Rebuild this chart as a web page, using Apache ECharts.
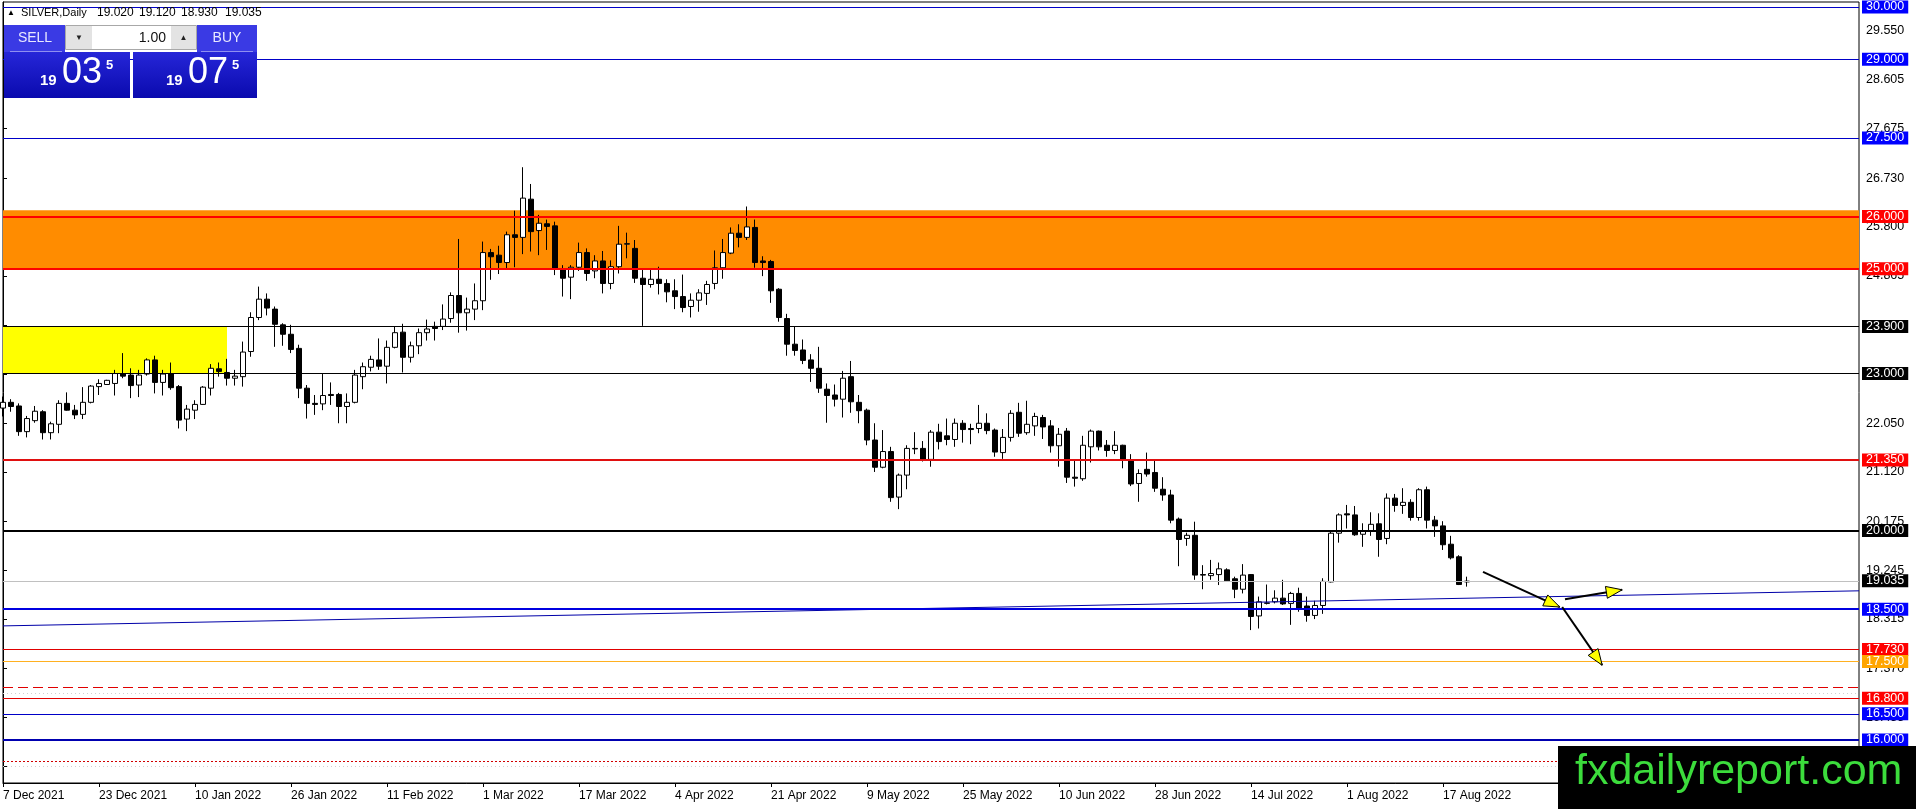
<!DOCTYPE html>
<html><head><meta charset="utf-8">
<script src="https://cdn.jsdelivr.net/npm/echarts@6/dist/echarts.min.js"></script>
<style>html,body{margin:0;padding:0;background:#fff;overflow:hidden}#c{width:1916px;height:809px}</style>
</head><body><div id="c"></div>
<script>
// ---------- data ----------
const opens = [22.34,22.45,22.38,21.89,22.10,22.27,21.87,22.03,22.43,22.30,
22.22,22.45,22.75,22.79,22.81,23.00,22.97,22.78,22.99,23.26,
22.83,23.00,22.75,22.13,22.30,22.41,22.72,23.09,23.02,22.91,
22.94,23.42,24.07,24.42,24.23,23.93,23.75,23.48,22.72,22.43,
22.42,22.60,22.60,22.37,22.45,22.94,23.12,23.26,23.14,23.50,
23.79,23.31,23.53,23.78,23.90,23.90,24.05,24.49,24.16,24.23,
24.39,25.31,25.26,25.12,25.65,25.60,26.33,25.73,25.86,25.82,
24.99,24.84,25.03,25.31,24.96,25.15,24.72,25.04,25.47,25.39,
24.82,24.70,24.80,24.72,24.58,24.47,24.28,24.40,24.53,24.72,
25.02,25.30,25.68,25.60,25.79,25.15,25.14,24.61,24.05,23.56,
23.45,23.26,23.10,22.70,22.59,22.51,22.94,22.45,22.30,21.73,
21.21,21.51,20.64,21.06,21.57,21.57,21.36,21.88,21.81,21.74,
22.05,21.95,21.95,22.05,21.92,21.49,21.78,22.26,21.87,22.00,
22.16,22.00,21.62,21.90,21.02,20.99,21.60,21.90,21.63,21.53,
21.63,21.34,20.90,21.17,21.11,20.79,20.68,20.22,19.85,19.91,
19.16,19.14,19.16,19.25,19.08,18.88,19.16,18.37,18.61,18.64,
18.71,18.61,18.80,18.56,18.38,18.57,19.02,19.95,20.32,20.30,
19.93,19.99,20.13,19.85,20.62,20.48,20.54,20.25,20.78,20.20,
20.09,19.74,19.50,19.02];
const closes = [22.45,22.37,21.89,22.14,22.28,21.87,22.04,22.43,22.30,22.21,
22.45,22.76,22.81,22.87,23.00,22.95,22.77,22.97,23.26,22.83,
22.99,22.73,22.11,22.32,22.41,22.74,23.10,23.04,22.91,22.95,
23.41,24.07,24.42,24.25,23.94,23.75,23.46,22.72,22.43,22.41,
22.58,22.58,22.37,22.45,22.97,23.13,23.27,23.14,23.50,23.78,
23.31,23.53,23.78,23.85,23.86,24.04,24.49,24.16,24.23,24.39,
25.31,25.23,25.12,25.65,25.60,26.35,25.71,25.87,25.81,25.01,
24.82,25.03,25.31,24.91,25.15,24.72,25.04,25.47,25.48,24.82,
24.70,24.80,24.72,24.56,24.47,24.26,24.40,24.54,24.70,25.02,
25.31,25.68,25.60,25.80,25.12,25.12,24.58,24.07,23.56,23.44,
23.25,23.10,22.72,22.58,22.51,22.91,22.46,22.29,21.73,21.21,
21.51,20.63,21.06,21.57,21.56,21.36,21.88,21.70,21.74,22.05,
21.93,21.93,22.05,21.91,21.50,21.78,22.24,21.86,22.03,22.18,
21.98,21.62,21.84,21.02,21.00,21.63,21.90,21.60,21.53,21.63,
21.36,20.89,21.09,21.08,20.81,20.68,20.20,19.83,19.91,19.15,
19.15,19.18,19.27,19.04,18.88,19.15,18.36,18.64,18.62,18.71,
18.60,18.80,18.52,18.38,18.57,19.03,19.95,20.30,20.30,19.92,
19.99,20.12,19.83,20.62,20.48,20.54,20.25,20.78,20.20,20.09,
19.73,19.48,18.97,19.035];
const lows = [22.18,22.27,21.81,21.78,22.06,21.74,21.74,21.86,22.29,22.13,
22.13,22.43,22.59,22.79,22.58,22.91,22.53,22.55,22.96,22.62,
22.58,22.69,21.95,21.90,22.13,22.40,22.58,22.94,22.77,22.77,
22.75,23.32,24.02,24.11,23.51,23.53,23.39,22.53,22.14,22.21,
22.30,22.40,22.05,22.05,22.43,22.70,23.04,23.07,22.81,23.48,
23.02,23.21,23.37,23.63,23.63,23.83,23.97,23.78,23.82,24.02,
24.21,24.79,24.90,25.01,25.03,25.28,25.33,25.26,25.36,24.88,
24.47,24.42,24.96,24.77,24.82,24.53,24.61,24.91,25.20,24.73,
23.91,24.64,24.51,24.36,24.23,24.17,24.07,24.18,24.31,24.61,
24.81,25.28,25.41,25.55,25.02,24.86,24.35,23.99,23.34,23.34,
23.18,22.84,22.63,22.06,22.37,22.16,22.25,22.05,21.63,21.12,
21.19,20.55,20.41,20.79,21.46,21.32,21.22,21.55,21.63,21.60,
21.68,21.65,21.86,21.84,21.41,21.37,21.70,21.79,21.83,21.81,
21.75,21.49,21.22,20.91,20.84,20.95,21.30,21.53,21.41,21.46,
21.19,20.85,20.55,21.03,20.74,20.57,20.14,19.32,19.71,19.06,
18.88,19.06,18.96,19.02,18.71,18.80,18.10,18.13,18.59,18.61,
18.58,18.20,18.45,18.26,18.31,18.41,19.01,19.77,20.04,19.90,
19.69,19.90,19.50,19.74,20.36,20.32,20.19,20.19,20.04,19.88,
19.63,19.45,18.96,18.93];
const highs = [22.56,22.51,22.43,22.19,22.38,22.30,22.08,22.49,22.64,22.40,
22.74,22.78,22.89,22.88,23.07,23.39,23.10,23.07,23.29,23.34,
23.07,23.21,22.78,22.40,22.49,22.76,23.18,23.21,23.28,23.07,
23.61,24.17,24.66,24.53,24.28,23.96,23.93,23.55,22.78,22.59,
22.99,22.83,22.63,22.62,23.07,23.21,23.34,23.67,23.63,23.90,
23.95,23.61,23.86,24.03,23.99,24.32,24.55,25.57,24.45,24.72,
25.52,25.38,25.44,25.71,26.11,26.94,26.62,26.03,25.94,25.90,
25.07,25.07,25.50,25.39,25.26,25.34,25.16,25.82,25.69,25.55,
24.99,24.98,25.04,24.80,24.80,24.89,24.53,24.61,24.77,25.35,
25.57,25.79,25.85,26.19,25.94,25.24,25.17,24.63,24.14,23.90,
23.65,23.37,23.51,22.81,22.79,23.05,23.24,22.59,22.33,22.05,
21.92,21.60,21.09,21.63,21.88,21.71,21.92,22.04,22.14,22.14,
22.11,22.04,22.40,22.24,21.95,21.94,22.30,22.44,22.48,22.25,
22.21,22.11,21.96,21.96,21.35,21.81,21.93,21.91,21.73,21.90,
21.64,21.46,21.17,21.49,21.33,21.02,20.78,20.25,19.96,20.17,
19.34,19.44,19.39,19.28,19.12,19.36,19.17,18.74,18.97,18.86,
19.06,18.83,18.91,18.74,18.66,19.09,19.99,20.33,20.49,20.47,
20.14,20.35,20.33,20.71,20.70,20.81,20.60,20.81,20.84,20.28,
20.18,19.90,19.53,19.12];

const firstDate = '2021-12-07';
const holidays = ['2022-04-15'];
const emptyBars = 49;
const labelEvery = 12;
const priceTicks = [29.55,28.605,27.675,26.73,25.8,24.865,23.925,22.99,22.05,21.12,20.175,19.245,18.315,17.37,16.435,15.5];
const labeledLevels = [30,29,27.5,26,25,23.9,23,21.35,20,19.035,18.5,17.73,17.5,16.8,16.5,16];
const plainLevels = [17.0,16.9,15.6,15.5];
const orangeZone = [25.0,26.12];
const yellowZone = [23.0,23.9];
const yellowZoneBars = [0,28];
const trendX = [0,232];
const trendY = [18.18,18.85];
const arrowFromX = [185,194.9,195.25];
const arrowFromY = [19.21,18.54,18.69];
const arrowToX = [194.6,199.9,202.4];
const arrowToY = [18.54,17.43,18.87];
const header = {sym:'SILVER,Daily', o:'19.020', h:'19.120', l:'18.930', c:'19.035'};
const bidParts = ['19','03','5'];
const askParts = ['19','07','5'];
const lotText = '1.00';
const watermark = 'fxdailyreport.com';

// ---------- build ----------
const MONTHS = ['Jan','Feb','Mar','Apr','May','Jun','Jul','Aug','Sep','Oct','Nov','Dec'];
function tradingDays(start, n, skip){
  const out=[]; const d=new Date(start+'T00:00:00Z');
  while(out.length<n){
    const wd=d.getUTCDay(); const iso=d.toISOString().slice(0,10);
    if(wd!==0&&wd!==6&&skip.indexOf(iso)<0) out.push(d.getUTCDate()+' '+MONTHS[d.getUTCMonth()]+' '+d.getUTCFullYear());
    d.setUTCDate(d.getUTCDate()+1);
  }
  return out;
}
const nBars = opens.length;
const days = tradingDays(firstDate, nBars, holidays);
const cats = days.concat(Array.from({length:emptyBars},(_,k)=>'~'+k));
const candles = opens.map((o,i)=>[o,closes[i],lows[i],highs[i]]);
const lastIdx = cats.length-1;
const showLbl = (idx)=> idx%labelEvery===0 && idx<nBars-2;

const FONT = 'Liberation Sans, Arial, sans-serif';
const BLUE_L='#0000c8', BLUE_B='#0000ff', RED='#ff0000', BLK='#000000';
const styleFor = {
  '30':   {c:BLUE_L,w:1,bg:BLUE_B},
  '29':   {c:BLUE_L,w:1,bg:BLUE_B},
  '27.5': {c:BLUE_L,w:1,bg:BLUE_B},
  '26':   {c:RED,w:2,bg:RED},
  '25':   {c:RED,w:2,bg:RED},
  '23.9': {c:BLK,w:1,bg:BLK},
  '23':   {c:BLK,w:1,bg:BLK},
  '21.35':{c:'#e01010',w:2,bg:RED},
  '20':   {c:BLK,w:2,bg:BLK},
  '19.035':{c:'#c0c0c0',w:1,bg:BLK},
  '18.5': {c:'#0000e0',w:2,bg:BLUE_B},
  '17.73':{c:'#e00000',w:1,bg:RED},
  '17.5': {c:'#ffb020',w:1,bg:'#ffa500'},
  '16.8': {c:'#e00000',w:1,bg:RED},
  '16.5': {c:BLUE_L,w:1,bg:BLUE_B},
  '16':   {c:'#0000b0',w:2,bg:BLUE_B}
};
const plainStyle = {
  '17':  {color:'#e00000',width:1,type:[10,5]},
  '16.9':{color:'#d0d0d0',width:1,type:[1,3]},
  '15.6':{color:'#d00000',width:1,type:[2,2]},
  '15.5':{color:'#d0d0d0',width:1,type:[1,3]}
};
const markLineData = labeledLevels.map(v=>{
  const s=styleFor[String(v)];
  return {yAxis:v, lineStyle:{color:s.c,width:s.w,type:'solid'},
    label:{show:true,position:'end',distance:3,formatter:v.toFixed(3),color:'#fff',
      backgroundColor:s.bg,padding:[1,4,0,4],fontSize:12.5,lineHeight:12,fontFamily:FONT}};
}).concat(plainLevels.map(v=>({yAxis:v,lineStyle:plainStyle[String(v)],label:{show:false}})));

const YMAX = 30 + 5/52.36, YMIN = 30 - 776/52.36;

const grad = (a,b)=>new echarts.graphic.LinearGradient(0,0,0,1,[{offset:0,color:a},{offset:1,color:b}]);
const g = [];
// header
g.push({type:'text',x:7,y:13,style:{text:'▲',font:'8px '+FONT,fill:'#000',verticalAlign:'middle'}});
g.push({type:'text',x:21,y:13,style:{text:header.sym,font:'11px '+FONT,fill:'#000',verticalAlign:'middle'}});
[[header.o,97],[header.h,139],[header.l,181],[header.c,225]].forEach(p=>g.push({type:'text',x:p[1],y:13,style:{text:p[0],font:'12px '+FONT,fill:'#000',verticalAlign:'middle'}}));
// panel
g.push({type:'rect',shape:{x:4,y:52,width:126,height:46},style:{fill:grad('#2626d8','#0a0aae')}});
g.push({type:'rect',shape:{x:133,y:52,width:124,height:46},style:{fill:grad('#2626d8','#0a0aae')}});
g.push({type:'rect',shape:{x:4,y:25,width:61,height:27},style:{fill:'#3a3ae4'}});
g.push({type:'rect',shape:{x:197,y:25,width:60,height:27},style:{fill:'#3a3ae4'}});
g.push({type:'line',shape:{x1:10,y1:51.5,x2:62,y2:51.5},style:{stroke:'#8f8ff0',lineWidth:1}});
g.push({type:'line',shape:{x1:201,y1:51.5,x2:253,y2:51.5},style:{stroke:'#8f8ff0',lineWidth:1}});
g.push({type:'rect',shape:{x:65.5,y:25.5,width:131,height:24},style:{fill:'#fff',stroke:'#a8a8a8',lineWidth:1}});
g.push({type:'rect',shape:{x:66,y:26,width:26,height:23},style:{fill:'#e3e3e3'}});
g.push({type:'rect',shape:{x:171,y:26,width:25,height:23},style:{fill:'#e3e3e3'}});
g.push({type:'text',x:79,y:38,style:{text:'▼',font:'8px '+FONT,fill:'#222',align:'center',verticalAlign:'middle'}});
g.push({type:'text',x:183.5,y:38,style:{text:'▲',font:'8px '+FONT,fill:'#222',align:'center',verticalAlign:'middle'}});
g.push({type:'text',x:166,y:38,style:{text:lotText,font:'14px '+FONT,fill:'#111',align:'right',verticalAlign:'middle'}});
g.push({type:'text',x:35,y:38,style:{text:'SELL',font:'14px '+FONT,fill:'#e8e8ff',align:'center',verticalAlign:'middle'}});
g.push({type:'text',x:227,y:38,style:{text:'BUY',font:'14px '+FONT,fill:'#e8e8ff',align:'center',verticalAlign:'middle'}});
function priceParts(parts,x0){
  g.push({type:'text',x:x0,y:81,style:{text:parts[0],font:'bold 15px '+FONT,fill:'#fff',verticalAlign:'middle'}});
  g.push({type:'text',x:x0+22,y:73,style:{text:parts[1],font:'36px '+FONT,fill:'#fff',verticalAlign:'middle'}});
  g.push({type:'text',x:x0+66,y:65,style:{text:parts[2],font:'bold 13px '+FONT,fill:'#fff',verticalAlign:'middle'}});
}
priceParts(bidParts,40);
priceParts(askParts,166);
// watermark
g.push({type:'rect',shape:{x:1558,y:746,width:358,height:63},style:{fill:'#000'},z:200});
g.push({type:'text',x:1575,y:772,style:{text:watermark,font:'43px '+FONT,fill:'#3cdc3c',verticalAlign:'middle'},z:201});
g.forEach(e=>{ if(e.z==null) e.z=100; });

const chart = echarts.init(document.getElementById('c'), null, {renderer:'canvas'});
chart.setOption({
  animation:false,
  backgroundColor:'#ffffff',
  grid:{left:3,right:57,top:2,bottom:26,show:true,borderColor:'#000',borderWidth:1,backgroundColor:'transparent'},
  xAxis:[{
    type:'category',data:cats,boundaryGap:false,
    axisLine:{show:true,lineStyle:{color:'#000',width:1}},
    axisTick:{show:true,length:4,interval:(i)=>showLbl(i),lineStyle:{color:'#000'}},
    axisLabel:{show:true,interval:(i)=>showLbl(i),align:'left',margin:7,color:'#000',fontSize:12,fontFamily:FONT},
    splitLine:{show:false}
  },{
    type:'value',min:0,max:lastIdx,show:false
  }],
  yAxis:[{
    type:'value',position:'right',min:YMIN,max:YMAX,
    axisLine:{show:true,lineStyle:{color:'#000',width:1}},
    axisTick:{show:true,length:4,customValues:priceTicks,lineStyle:{color:'#000'}},
    axisLabel:{show:true,customValues:priceTicks,formatter:(v)=>Number(v).toFixed(3),margin:7,color:'#000',fontSize:12.5,fontFamily:FONT},
    splitLine:{show:false}
  }],
  graphic:g,
  series:[
    {
      type:'line',xAxisIndex:1,yAxisIndex:0,
      data:trendX.map((x,k)=>[x,trendY[k]]),
      symbol:'none',lineStyle:{color:'#0000a8',width:1},z:4,silent:true,
      markArea:{silent:true,data:[
        [{yAxis:orangeZone[0],itemStyle:{color:'#ff8c00'}},{yAxis:orangeZone[1]}],
        [{xAxis:yellowZoneBars[0],yAxis:yellowZone[0],itemStyle:{color:'#ffff00'}},{xAxis:yellowZoneBars[1],yAxis:yellowZone[1]}]
      ]},
      markLine:{silent:true,symbol:['none','none'],data:markLineData}
    },
    {
      type:'candlestick',xAxisIndex:0,yAxisIndex:0,data:candles,barWidth:5,clip:true,
      itemStyle:{color:'#ffffff',color0:'#000000',borderColor:'#000000',borderColor0:'#000000',borderWidth:1},
      z:3
    },
    {
      type:'custom',xAxisIndex:1,yAxisIndex:0,z:6,silent:true,
      data:arrowFromX.map((x,k)=>[x,arrowFromY[k],arrowToX[k],arrowToY[k]]),
      encode:{x:[0,2],y:[1,3]},
      renderItem:function(params,api){
        const p1=api.coord([api.value(0),api.value(1)]);
        const p2=api.coord([api.value(2),api.value(3)]);
        const dx=p2[0]-p1[0],dy=p2[1]-p1[1],len=Math.hypot(dx,dy);
        const ux=dx/len,uy=dy/len,nx=-uy,ny=ux,L=16,W=6;
        const bx=p2[0]-ux*L,by=p2[1]-uy*L;
        return {type:'group',children:[
          {type:'line',shape:{x1:p1[0],y1:p1[1],x2:p2[0],y2:p2[1]},style:{stroke:'#000',lineWidth:2}},
          {type:'polygon',shape:{points:[[p2[0],p2[1]],[bx+nx*W,by+ny*W],[bx-nx*W,by-ny*W]]},style:{fill:'#ffff00',stroke:'#000',lineWidth:1}}
        ]};
      }
    }
  ]
});
</script>
</body></html>
